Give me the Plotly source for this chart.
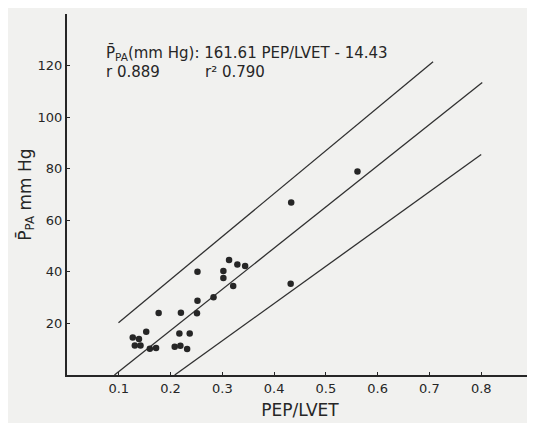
import plotly.graph_objects as go

# Data points (PEP/LVET, mean PA pressure mm Hg)
pep_lvet = [0.313, 0.329, 0.344, 0.302, 0.302, 0.252, 0.321, 0.283, 0.252,
            0.177, 0.220, 0.251, 0.153, 0.217, 0.237, 0.127, 0.139, 0.131,
            0.142, 0.160, 0.172, 0.208, 0.219, 0.232, 0.432, 0.433, 0.561]
ppa = [44.6, 42.9, 42.3, 40.3, 37.6, 40.0, 34.5, 30.2, 28.8,
       24.0, 24.1, 23.9, 16.8, 16.1, 16.1, 14.5, 14.0, 11.4,
       11.4, 10.2, 10.5, 11.0, 11.3, 10.1, 35.4, 66.9, 78.9]

# Regression line and confidence limits (end points)
reg_x = [0.0917, 0.802]
reg_y = [0.0, 113.4]
upper_x = [0.0994, 0.707]
upper_y = [20.3, 121.5]
lower_x = [0.208, 0.800]
lower_y = [0.0, 85.5]

x_ticks = [0.1, 0.2, 0.3, 0.4, 0.5, 0.6, 0.7, 0.8]
x_labels = ["0.1", "0.2", "0.3", "0.4", "0.5", "0.6", "0.7", "0.8"]
y_ticks = [20, 40, 60, 80, 100, 120]
y_labels = ["20", "40", "60", "80", "100", "120"]

ink = "#262626"
font = "DejaVu Sans"

fig = go.Figure()
for lx, ly in [(upper_x, upper_y), (reg_x, reg_y), (lower_x, lower_y)]:
    fig.add_trace(go.Scatter(x=lx, y=ly, mode="lines",
                             line=dict(color="#303030", width=1.3),
                             showlegend=False, hoverinfo="skip"))
fig.add_trace(go.Scatter(x=pep_lvet, y=ppa, mode="markers",
                         marker=dict(color=ink, size=6.5),
                         showlegend=False))

fig.update_layout(
    width=535, height=423,
    margin=dict(l=59, r=10, t=6, b=56),
    paper_bgcolor="#f1f1ef", plot_bgcolor="#f1f1ef",
    font=dict(family=font, color=ink, size=13),
    xaxis=dict(range=[0, 0.9], tickvals=x_ticks, ticktext=x_labels,
               showgrid=False, zeroline=False, showline=True, automargin=False,
               linecolor=ink, linewidth=2, ticks="inside", ticklen=3,
               tickcolor=ink, tickfont=dict(size=13),
               title=dict(text="PEP/LVET", font=dict(size=17), standoff=10)),
    yaxis=dict(range=[0, 140], tickvals=y_ticks, ticktext=y_labels,
               showgrid=False, zeroline=False, showline=True, automargin=False,
               linecolor=ink, linewidth=2, ticks="inside", ticklen=3,
               tickcolor=ink, tickfont=dict(size=13),
               title=dict(text="P\u0304<sub>PA</sub> mm Hg", font=dict(size=17),
                          standoff=2)),
)

fig.add_annotation(x=0.0705, y=125, xref="x", yref="y", xanchor="left",
                   yanchor="middle", showarrow=False,
                   text="P\u0304<sub>PA</sub>(mm Hg): 161.61 PEP/LVET - 14.43",
                   font=dict(size=15, family=font, color=ink))
fig.add_annotation(x=0.0705, y=117.5, xref="x", yref="y", xanchor="left",
                   yanchor="middle", showarrow=False, text="r 0.889",
                   font=dict(size=15, family=font, color=ink))
fig.add_annotation(x=0.263, y=117.5, xref="x", yref="y", xanchor="left",
                   yanchor="middle", showarrow=False, text="r\u00b2 0.790",
                   font=dict(size=15, family=font, color=ink))

fig.write_html("out.html")
